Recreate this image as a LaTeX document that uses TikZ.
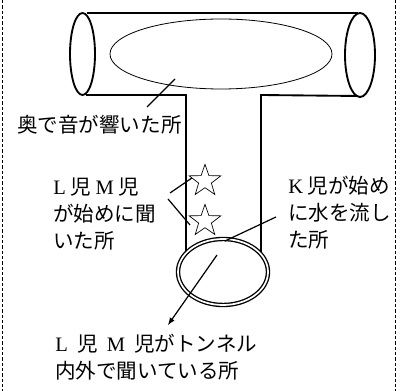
\documentclass[tikz,border=0pt]{standalone}
\usepackage{fontspec}
\newfontfamily\jp{Noto Sans CJK JP}
\newfontfamily\lt{Liberation Serif}
\usetikzlibrary{arrows,shapes.geometric}

\begin{document}
\begin{tikzpicture}[x=0.75pt,y=-0.75pt]
\tikzstyle{tubo} = [line width=1.4pt]
\tikzstyle{filo} = [line width=0.9pt]
\tikzstyle{testo} = [font=\jp\fontsize{15.4pt}{20.25pt}\selectfont, anchor=west, align=left, inner sep=0pt]
\tikzstyle{stella} = [star, star points=5, star point ratio=2.5, draw, line width=0.5pt, minimum size=25pt, inner sep=0pt]
\useasboundingbox (0,0) rectangle (400,391);
\draw[dashed, dash pattern=on 2.5pt off 1.5pt] (2.5,0) -- (2.5,391);
\draw[dashed, dash pattern=on 2.5pt off 1.5pt] (395,0) -- (395,391);
% T-shaped tunnel
\draw[tubo] (82.5,54) ellipse (12.5 and 41);
\draw[tubo] (360,55) ellipse (15 and 42);
\draw[tubo] (87,13) -- (358,13);
\draw[tubo] (86,95) -- (186,95) -- (186,253);
\draw[tubo] (358,96) -- (261,95) -- (261,253);
\draw[line width=0.6pt] (221,54) ellipse (111 and 35);
\draw[double, double distance=1.3pt, line width=1pt] (223,272) ellipse (45 and 33);
\node[stella] (s1) at (205,181) {};
\node[stella] (s2) at (205,221) {};
\node[testo] (eco) at (17,125) {奥で音が響いた所};
\node[testo] (lm) at (53,214) {{\lt L} 児 {\lt M} 児\\が始めに聞\\いた所};
\node[testo] (k) at (288,213) {{\lt K} 児が始め\\に水を流し\\た所};
\node[testo] (dentro) at (55,357) {{\lt L}\hspace{0.45em}児\hspace{0.45em}{\lt M}\hspace{0.45em}児がトンネル\\内外で聞いている所};
\coordinate (e1) at (147,107);
\coordinate (e2) at (175,79);
\coordinate (l1) at (170,193);
\coordinate (l2) at (168,199);
\coordinate (p2) at (190,225);
\coordinate (k1) at (276,217);
\coordinate (bocca) at (225,241);
\coordinate (a1) at (217,255);
\coordinate (a2) at (168,325);
\draw[filo] (e1) -- (e2);
\draw[filo] (l1) -- (s1.168);
\draw[filo] (l2) -- (p2);
\draw[filo] (k1) -- (bocca);
%\draw[filo] (k1) -- (s2);
\draw[filo,-latex] (a1) -- (a2);
\end{tikzpicture}
\end{document}
